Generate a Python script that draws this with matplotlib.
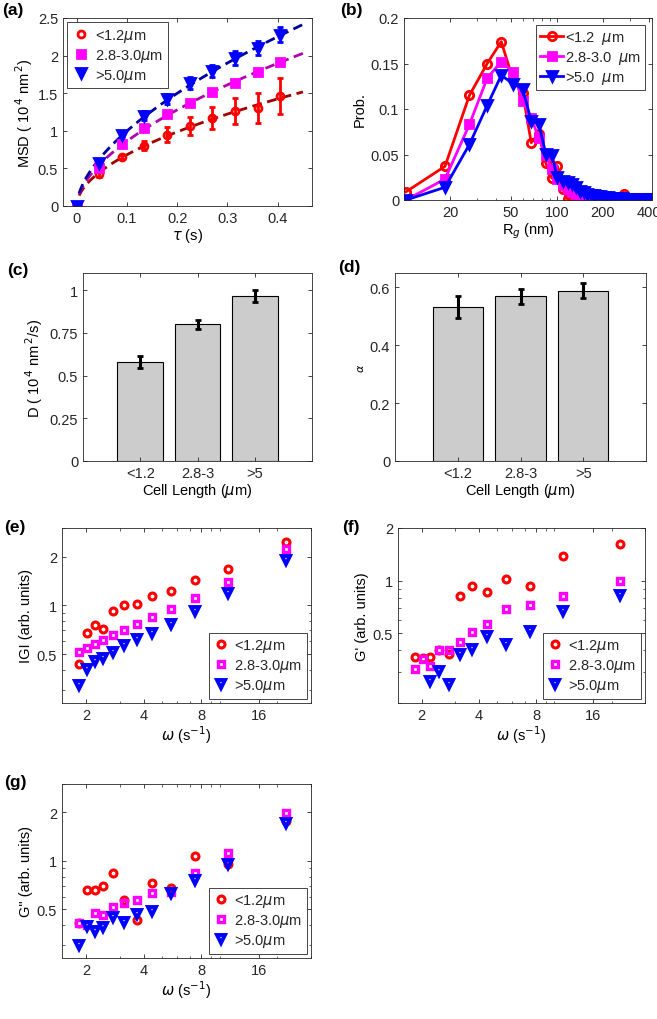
import numpy as np
import matplotlib
matplotlib.use("Agg")
import matplotlib.pyplot as plt
from matplotlib.ticker import FixedLocator, NullFormatter, LogLocator, FixedFormatter

plt.rcParams['font.family'] = ['Liberation Sans', 'DejaVu Sans']
plt.rcParams['mathtext.fontset'] = 'dejavusans'
plt.rcParams['axes.edgecolor'] = '#262626'
plt.rcParams['text.color'] = '#262626'
plt.rcParams['xtick.color'] = '#262626'
plt.rcParams['ytick.color'] = '#262626'
plt.rcParams['axes.linewidth'] = 0.6

FS = 10.5

# groups by cell length
groups = ['<1.2$\\mu$m', '2.8-3.0$\\mu$m', '>5.0$\\mu$m']
groups_b = ['<1.2  $\\mu$m', '2.8-3.0  $\\mu$m', '>5.0  $\\mu$m']
cols = ['#FF0000', '#FF00FF', '#0000FF']
fitcols = ['#A00000', '#B000B0', '#0000A0']
marks = ['o', 's', 'v']

# (a) MSD vs lag time
tau = [0, 0.045, 0.09, 0.135, 0.18, 0.225, 0.27, 0.315, 0.36, 0.405]
msd_short = [0, 0.42, 0.65, 0.80, 0.95, 1.06, 1.17, 1.26, 1.30, 1.46]
msd_mid = [0, 0.50, 0.83, 1.04, 1.22, 1.37, 1.51, 1.64, 1.78, 1.92]
msd_long = [0, 0.57, 0.95, 1.20, 1.42, 1.64, 1.80, 1.97, 2.10, 2.28]
err_short = [0.02, 0.03, 0.03, 0.06, 0.10, 0.12, 0.15, 0.17, 0.20, 0.24]
err_mid = [0.01, 0.02, 0.03, 0.03, 0.03, 0.03, 0.03, 0.03, 0.03, 0.03]
err_long = [0.02, 0.04, 0.05, 0.06, 0.07, 0.08, 0.08, 0.09, 0.09, 0.10]

# (b) Rg distributions
rg = [10.3, 18.55, 26.8, 35.05, 43.3, 51.55, 59.8, 68.05, 76.3, 84.55, 92.8, 101.05,
      109.3, 117.55, 125.8, 134.05, 142.3, 150.55, 158.8, 167.05, 175.3, 183.55, 191.8, 200.05,
      208.3, 216.55, 224.8, 233.05, 241.3, 249.55, 257.8, 266.05, 274.3, 282.55, 290.8, 299.05,
      307.3, 315.55, 323.8, 332.05, 340.3, 348.55, 356.8, 365.05, 373.3, 381.55, 389.8, 398.05]
p_short = [0.009, 0.037, 0.115, 0.150, 0.174, 0.133, 0.118, 0.063, 0.073, 0.041, 0.024, 0.037,
           0.012, 0.001, 0.002, 0.001, 0.002, 0.003, 0.003, 0.002, 0.002, 0.003, 0.002, 0.002,
           0.002, 0.002, 0.001, 0.002, 0.002, 0.002, 0.003, 0.002, 0.007, 0.002, 0.002, 0.001,
           0.002, 0.002, 0.001, 0.002, 0.002, 0.002, 0.001, 0.002, 0.002, 0.002, 0.002, 0.002]
p_mid = [0.000, 0.023, 0.083, 0.134, 0.152, 0.141, 0.109, 0.090, 0.068, 0.049, 0.034, 0.023,
         0.016, 0.012, 0.009, 0.007, 0.006, 0.005, 0.004, 0.004, 0.003, 0.003, 0.003, 0.002,
         0.002, 0.002, 0.002, 0.002, 0.001, 0.001, 0.001, 0.001, 0.001, 0.001, 0.001, 0.001,
         0.001, 0.001, 0.001, 0.001, 0.001, 0.000, 0.000, 0.000, 0.000, 0.000, 0.000, 0.000]
p_long = [0.000, 0.014, 0.061, 0.104, 0.137, 0.128, 0.122, 0.087, 0.084, 0.051, 0.049, 0.025,
          0.021, 0.020, 0.018, 0.014, 0.010, 0.009, 0.007, 0.006, 0.005, 0.004, 0.004, 0.003,
          0.003, 0.003, 0.002, 0.002, 0.002, 0.002, 0.002, 0.002, 0.001, 0.001, 0.001, 0.001,
          0.001, 0.001, 0.001, 0.001, 0.001, 0.001, 0.001, 0.001, 0.001, 0.001, 0.001, 0.001]

# (c), (d) fitted D and alpha
bar_labels = ['<1.2', '2.8-3', '>5']
D = [0.58, 0.80, 0.965]
D_err = [0.033, 0.025, 0.035]
alpha = [0.532, 0.570, 0.588]
alpha_err = [0.038, 0.026, 0.026]

# (e)-(g) moduli vs frequency
omega = [1.85, 2.02, 2.22, 2.47, 2.78, 3.17, 3.70, 4.44, 5.55, 7.40, 11.1, 22.2]
G_short = [0.434, 0.679, 0.754, 0.719, 0.919, 1.0, 1.024, 1.136, 1.219, 1.438, 1.68, 2.45]
G_mid = [0.517, 0.547, 0.576, 0.615, 0.654, 0.702, 0.764, 0.848, 0.945, 1.11, 1.40, 2.23]
G_long = [0.322, 0.403, 0.455, 0.477, 0.517, 0.568, 0.618, 0.676, 0.772, 0.919, 1.19, 1.91]
Gp_short = [0.366, 0.36, 0.366, 0.40, 0.382, 0.821, 0.928, 0.866, 1.022, 0.936, 1.376, 1.62]
Gp_mid = [0.314, 0.358, 0.325, 0.403, 0.403, 0.445, 0.508, 0.566, 0.690, 0.727, 0.821, 1.0]
Gp_long = [np.nan, np.nan, 0.266, 0.303, 0.258, 0.382, 0.405, 0.48, 0.432, 0.519, 0.675, 0.829]
Gpp_short = [0.41, 0.66, 0.66, 0.702, 0.84, 0.576, 0.432, 0.729, 0.676, 1.073, 0.963, 1.76]
Gpp_mid = [0.414, 0.40, 0.475, 0.464, 0.521, 0.549, 0.573, 0.633, 0.645, 0.836, 1.125, 1.98]
Gpp_long = [0.30, 0.393, 0.366, 0.389, 0.449, 0.418, 0.47, 0.486, 0.633, 0.76, 0.954, 1.72]

W, H = 657, 1020
fig = plt.figure(figsize=(W / 100, H / 100), dpi=100)


def box(l, t, r, b):
    return fig.add_axes([l / W, 1 - b / H, (r - l) / W, (b - t) / H])


def style(ax):
    ax.tick_params(direction='in', top=True, right=True, length=3, width=0.6, labelsize=FS)
    ax.tick_params(which='minor', direction='in', top=True, right=True, length=1.8, width=0.5)


def panel(x, y, s):
    fig.text(x / W, 1 - y / H, s, fontsize=12.5, fontweight='bold', color='black', va='top')


def leg(ax, **kw):
    lg = ax.legend(fancybox=False, framealpha=1, edgecolor='#262626', fontsize=FS,
                   borderpad=0.3, labelspacing=0.2, **kw)
    lg.get_frame().set_linewidth(0.6)
    return lg


# (a)
ax = box(63, 19, 312, 207)
style(ax)
tt = np.linspace(0.005, 0.45, 100)
for k in range(3):
    ax.plot(tt, 4 * D[k] * tt ** alpha[k], color=fitcols[k], lw=2, dashes=(3.5, 2), zorder=1)
for k, (m, e) in enumerate([(msd_short, err_short), (msd_mid, err_mid), (msd_long, err_long)]):
    mfc = 'none' if k == 0 else cols[k]
    ax.errorbar(tau, m, yerr=e, fmt=marks[k], color=cols[k], mfc=mfc, mec=cols[k],
                ms=[5, 5.5, 7][k], mew=2, elinewidth=2, capsize=2, capthick=2,
                label=groups[k], zorder=2)
ax.set_xlim(-0.027, 0.468)
ax.set_ylim(0, 2.5)
ax.set_xticks([0, 0.1, 0.2, 0.3, 0.4])
ax.set_xticklabels(['0', '0.1', '0.2', '0.3', '0.4'])
ax.set_yticks([0, 0.5, 1, 1.5, 2, 2.5])
ax.set_yticklabels(['0', '0.5', '1', '1.5', '2', '2.5'])
ax.set_xlabel('$\\tau$ (s)', fontsize=FS, labelpad=1)
ax.set_ylabel('MSD ( 10$^{\\,4}$ nm$^{\\,2}$)', fontsize=FS, labelpad=2)
h, l = ax.get_legend_handles_labels()
leg(ax, handles=[x[0] for x in h], labels=l, loc='upper left', handlelength=1.2,
    handletextpad=0.4, borderaxespad=0.3)
panel(2, 3, '(a)')

# (b)
ax = box(404, 19, 652, 201)
style(ax)
for k, p in enumerate([p_short, p_mid, p_long]):
    mfc = 'none' if k == 0 else cols[k]
    ax.plot(rg, p, marker=marks[k], color=cols[k], lw=2, mfc=mfc, mec=cols[k],
            ms=[6, 5.5, 7][k], mew=2, label=groups_b[k])
ax.set_xscale('log')
ax.set_xlim(10, 420)
ax.set_ylim(0, 0.2)
ax.xaxis.set_major_locator(FixedLocator([20, 50, 100, 200, 400]))
ax.xaxis.set_major_formatter(FixedFormatter(['20', '50', '100', '200', '400']))
ax.xaxis.set_minor_locator(LogLocator(base=10, subs=np.arange(1, 10)))
ax.xaxis.set_minor_formatter(NullFormatter())
ax.set_yticks([0, 0.05, 0.1, 0.15, 0.2])
ax.set_yticklabels(['0', '0.05', '0.1', '0.15', '0.2'])
ax.set_xlabel('R$_g$ (nm)', fontsize=FS, labelpad=1)
ax.set_ylabel('Prob.', fontsize=FS, labelpad=3)
leg(ax, loc='upper right', handlelength=1.6, handletextpad=0.1, borderaxespad=0.45)
panel(340, 3, '(b)')

# (c) and (d)
for (l, t, r, b), vals, errs, ylim, yt, ytl, ylab, lx, ly, name in [
        ((83, 274, 312, 462), D, D_err, 1.1, [0, 0.25, 0.5, 0.75, 1],
         ['0', '0.25', '0.5', '0.75', '1'], 'D ( 10$^{\\,4}$ nm$^{\\,2}$/s)', 7, 263, '(c)'),
        ((395, 274, 646, 462), alpha, alpha_err, 0.65, [0, 0.2, 0.4, 0.6],
         ['0', '0.2', '0.4', '0.6'], '$\\alpha$', 338, 260, '(d)')]:
    ax = box(l, t, r, b)
    style(ax)
    xs = np.arange(1, 4)
    ax.bar(xs, vals, width=0.8, color='#CCCCCC', edgecolor='black', linewidth=0.8)
    ax.errorbar(xs, vals, yerr=errs, fmt='none', ecolor='black', elinewidth=2.2,
                capsize=2, capthick=2)
    ax.set_xlim(0, 4)
    ax.set_ylim(0, ylim)
    ax.set_xticks(xs)
    ax.set_xticklabels(bar_labels)
    ax.set_yticks(yt)
    ax.set_yticklabels(ytl)
    ax.set_xlabel('Cell Length ($\\mu$m)', fontsize=FS, labelpad=1)
    ax.set_ylabel(ylab, fontsize=FS if name == '(c)' else 8, labelpad=3)
    panel(lx, ly, name)

# (e), (f), (g)
for (l, t, r, b), sets, ylim, yt, ylab, lx, ly, name in [
        ((62, 529, 311, 704), (G_short, G_mid, G_long), (0.25, 3), [0.5, 1, 2],
         'IGI (arb. units)', 4, 520, '(e)'),
        ((398, 529, 645, 704), (Gp_short, Gp_mid, Gp_long), (0.2, 2), [0.5, 1, 2],
         "G' (arb. units)", 342, 520, '(f)'),
        ((62, 785, 311, 959), (Gpp_short, Gpp_mid, Gpp_long), (0.25, 3), [0.5, 1, 2],
         'G" (arb. units)', 4, 775, '(g)')]:
    ax = box(l, t, r, b)
    style(ax)
    for k, g in enumerate(sets):
        ax.plot(omega, g, linestyle='none', marker=marks[k], mfc='none', mec=cols[k],
                ms=[5, 4, 5.5][k], mew=[2.2, 2.4, 2.8][k], label=groups[k])
    ax.set_xscale('log')
    ax.set_yscale('log')
    ax.set_xlim(1.5, 30)
    ax.set_ylim(*ylim)
    ax.xaxis.set_major_locator(FixedLocator([2, 4, 8, 16]))
    ax.xaxis.set_major_formatter(FixedFormatter(['2', '4', '8', '16']))
    ax.xaxis.set_minor_locator(LogLocator(base=10, subs=np.arange(1, 10)))
    ax.xaxis.set_minor_formatter(NullFormatter())
    ax.yaxis.set_major_locator(FixedLocator(yt))
    ax.yaxis.set_major_formatter(FixedFormatter(['0.5', '1', '2']))
    ax.yaxis.set_minor_locator(LogLocator(base=10, subs=np.arange(1, 10)))
    ax.yaxis.set_minor_formatter(NullFormatter())
    ax.set_xlabel('$\\omega$ (s$^{-1}$)', fontsize=FS, labelpad=1)
    ax.set_ylabel(ylab, fontsize=FS, labelpad=3)
    leg(ax, loc='lower right', handlelength=1.0, handletextpad=0.4, borderaxespad=0.3)
    panel(lx, ly, name)

fig.savefig('out.png', dpi=100)
